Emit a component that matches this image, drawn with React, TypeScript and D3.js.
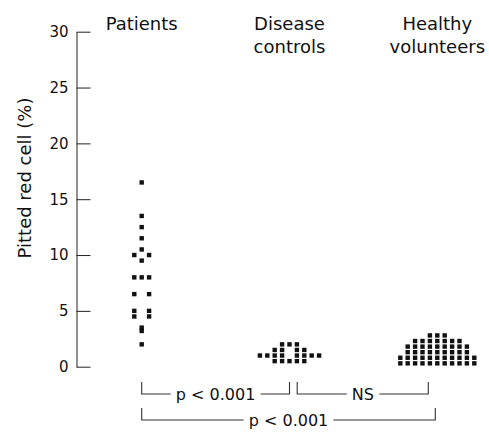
import React, { useEffect, useRef } from 'react';
import * as d3 from 'd3';

// values (% pitted red cells)
const groups = ['Patients', 'Disease controls', 'Healthy volunteers'];
const groupLabels = [['Patients'], ['Disease', 'controls'], ['Healthy', 'volunteers']];

const patients = [16.5, 13.5, 12.5, 11.5, 10.5, 10, 10, 9.5, 8, 8, 8, 6.5, 6.5, 5, 5, 4.5, 4.5, 3.5, 3.2, 2];
const diseaseControls = [2, 2, 2, 1.5, 1.5, 1.5, 1.5, 1, 1, 1, 1, 1, 1, 1, 1, 0.5, 0.5, 0.5, 0.5, 0.5];
const healthyVolunteers = [
  2.8, 2.8, 2.8,
  2.3, 2.3, 2.3, 2.3, 2.3, 2.3, 2.3,
  1.8, 1.8, 1.8, 1.8, 1.8, 1.8, 1.8, 1.8, 1.8,
  1.3, 1.3, 1.3, 1.3, 1.3, 1.3, 1.3, 1.3, 1.3,
  0.8, 0.8, 0.8, 0.8, 0.8, 0.8, 0.8, 0.8, 0.8, 0.8, 0.8,
  0.3, 0.3, 0.3, 0.3, 0.3, 0.3, 0.3, 0.3, 0.3, 0.3, 0.3,
];
const series = [patients, diseaseControls, healthyVolunteers];

const yTicks = [0, 5, 10, 15, 20, 25, 30];
const comparisons = [
  { from: 0, to: 1, label: 'p < 0.001', row: 0 },
  { from: 1, to: 2, label: 'NS', row: 0 },
  { from: 0, to: 2, label: 'p < 0.001', row: 1 },
];

const width = 489;
const height = 432;
const font = '"DejaVu Sans", sans-serif';
const dotSize = 4.4;
const dotStep = 7.4;

const x = d3.scalePoint<string>().domain(groups).range([141.7, 437.3]);
const y = d3.scaleLinear().domain([0, 30]).range([366.7, 31.7]);

// spread equal values side by side: odd counts centred, even counts leave the centre empty
function spread(values: number[]) {
  const rows = d3.group(values, (v) => v);
  const out: { v: number; k: number }[] = [];
  rows.forEach((vs, v) => {
    const n = vs.length;
    const ks: number[] = [];
    if (n % 2 === 1) {
      for (let i = -(n - 1) / 2; i <= (n - 1) / 2; i++) ks.push(i);
    } else {
      for (let i = 1; i <= n / 2; i++) ks.push(-i, i);
    }
    ks.forEach((k) => out.push({ v, k }));
  });
  return out;
}

// bracket end tweaks (px) so the ticks sit beside the dot clouds as in the figure
const fromShift = [0, 7.7, 0];
const toShift = [0, -9, -2];

export default function App() {
  const axisRef = useRef<SVGGElement>(null);

  useEffect(() => {
    const g = d3.select(axisRef.current!);
    g.call(
      d3.axisLeft(y).tickValues(yTicks).tickSizeInner(-14).tickSizeOuter(0).tickPadding(8)
    );
    g.select('.domain').attr('stroke', '#222');
    g.selectAll('.tick line').attr('stroke', '#222');
    g.selectAll('.tick text')
      .attr('fill', '#111')
      .style('font-family', font)
      .style('font-size', '15px');
  }, []);

  return (
    <svg width={width} height={height} style={{ display: 'block', position: 'absolute', left: 0, top: 0 }}>
      <rect width={width} height={height} fill="#fff" />
      <g ref={axisRef} transform="translate(76.5,0)" />
      <text
        transform={`translate(31,178) rotate(-90)`}
        textAnchor="middle"
        fontFamily={font}
        fontSize={18}
        fill="#111"
      >
        Pitted red cell (%)
      </text>

      {groupLabels.map((lines, i) => (
        <text key={i} textAnchor="middle" fontFamily={font} fontSize={18} fill="#111">
          {lines.map((t, j) => (
            <tspan key={j} x={x(groups[i])} y={30 + j * 23}>
              {t}
            </tspan>
          ))}
        </text>
      ))}

      {series.map((vals, i) => (
        <g key={i} fill="#111">
          {spread(vals).map((d, j) => (
            <rect
              key={j}
              x={x(groups[i])! + d.k * dotStep - dotSize / 2}
              y={y(d.v) - dotSize / 2}
              width={dotSize}
              height={dotSize}
            />
          ))}
        </g>
      ))}

      {comparisons.map((c, i) => {
        const x0 = x(groups[c.from])! + fromShift[i];
        const x1 = x(groups[c.to])! + toShift[i];
        const top = 382 + c.row * 26;
        const base = top + 12;
        return (
          <g key={i}>
            <path
              d={`M${x0},${top}V${base}H${x1}V${top}`}
              fill="none"
              stroke="#333"
              strokeWidth={1.1}
            />
            <text
              x={(x0 + x1) / 2}
              y={base}
              dy="0.36em"
              textAnchor="middle"
              fontFamily={font}
              fontSize={16}
              fill="#111"
              stroke="#fff"
              strokeWidth={13}
              paintOrder="stroke"
            >
              {c.label}
            </text>
          </g>
        );
      })}
    </svg>
  );
}
